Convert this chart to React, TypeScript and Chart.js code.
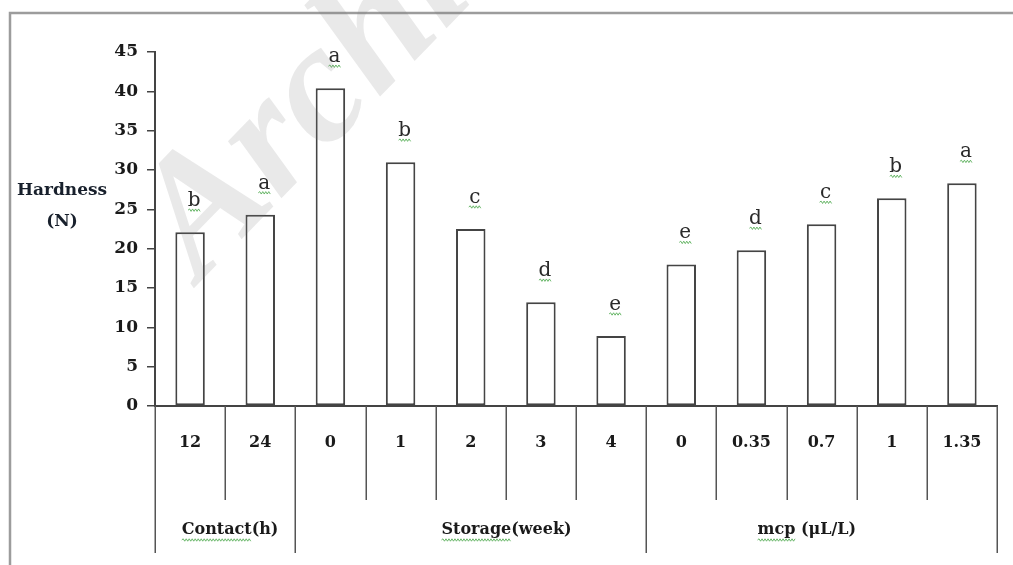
import { useEffect, useRef } from "react";
import { Chart, registerables } from "chart.js";
Chart.register(...registerables);

const categories = ["12", "24", "0", "1", "2", "3", "4", "0", "0.35", "0.7", "1", "1.35"];
const hardness = [22.1, 24.3, 40.4, 31.0, 22.5, 13.2, 8.9, 18.0, 19.8, 23.1, 26.4, 28.3];
const letters = ["b", "a", "a", "b", "c", "d", "e", "e", "d", "c", "b", "a"];
const groupNames = ["Contact(h)", "Storage(week)", "mcp (μL/L)"];
const groupUnderlined = ["Contact", "Storage", "mcp"];
const groupSizes = [2, 5, 5];
const yAxisTitle = ["Hardness", "(N)"];
const watermarkText = "Archive";

// layout (not data)
const groupLabelAnchor = [1.07, 5.01, 9.29];
const SERIF = "'DejaVu Serif', 'Liberation Serif', serif";
const INK = "#1a1a1a";

function wavy(ctx: CanvasRenderingContext2D, x1: number, x2: number, y: number) {
  ctx.save();
  ctx.strokeStyle = "rgba(80,170,80,0.85)";
  ctx.lineWidth = 1;
  ctx.beginPath();
  let up = true;
  ctx.moveTo(x1, y);
  for (let x = x1 + 1.5; x <= x2; x += 1.5) {
    ctx.lineTo(x, up ? y - 1.2 : y + 1.2);
    up = !up;
  }
  ctx.stroke();
  ctx.restore();
}

const decorPlugin = {
  id: "decor",
  beforeDraw(chart: any) {
    const ctx = chart.ctx as CanvasRenderingContext2D;
    ctx.save();
    ctx.fillStyle = "#ffffff";
    ctx.fillRect(0, 0, chart.width, chart.height);
    ctx.strokeStyle = "#9c9c9c";
    ctx.lineWidth = 2.5;
    ctx.beginPath();
    ctx.moveTo(10, chart.height);
    ctx.lineTo(10, 13);
    ctx.lineTo(chart.width, 13);
    ctx.stroke();
    ctx.restore();
  },
  afterDraw(chart: any) {
    const ctx = chart.ctx as CanvasRenderingContext2D;
    const area = chart.chartArea;
    const n = categories.length;
    const cw = (area.right - area.left) / n;
    const y0 = area.bottom;
    ctx.save();

    // y axis title
    ctx.fillStyle = "#18202c";
    ctx.font = `bold 17px ${SERIF}`;
    ctx.textAlign = "center";
    ctx.textBaseline = "middle";
    ctx.fillText(yAxisTitle[0], 62, 191);
    ctx.fillText(yAxisTitle[1], 62, 222);

    // table lines
    ctx.strokeStyle = "#555";
    ctx.lineWidth = 1.5;
    const groupEdges = new Set<number>();
    let acc = 0;
    groupEdges.add(0);
    groupSizes.forEach((s) => {
      acc += s;
      groupEdges.add(acc);
    });
    for (let i = 0; i <= n; i++) {
      const x = Math.round(area.left + i * cw) + 0.25;
      ctx.beginPath();
      ctx.moveTo(x, y0);
      ctx.lineTo(x, groupEdges.has(i) ? 553 : 500);
      ctx.stroke();
    }

    // category labels
    ctx.fillStyle = INK;
    ctx.font = `bold 16px ${SERIF}`;
    ctx.textBaseline = "middle";
    categories.forEach((c, i) => {
      ctx.fillText(c, area.left + (i + 0.5) * cw, 443);
    });

    // group labels
    ctx.font = `bold 16px ${SERIF}`;
    groupNames.forEach((g, i) => {
      const cx = area.left + groupLabelAnchor[i] * cw;
      ctx.fillStyle = INK;
      ctx.fillText(g, cx, 530);
      const w = ctx.measureText(g).width;
      const uw = ctx.measureText(groupUnderlined[i]).width;
      const x1 = cx - w / 2;
      wavy(ctx, x1, x1 + uw, 540);
    });

    // significance letters
    const meta = chart.getDatasetMeta(0);
    ctx.font = `20px ${SERIF}`;
    ctx.textBaseline = "alphabetic";
    meta.data.forEach((bar: any, i: number) => {
      const x = bar.x + 4;
      const y = bar.y - 26;
      ctx.fillStyle = "#2a2a2a";
      ctx.fillText(letters[i], x, y);
      wavy(ctx, x - 6, x + 6, y + 4);
    });

    // watermark
    ctx.translate(200, 282);
    ctx.rotate(-0.8);
    ctx.font = `bold italic 170px 'Liberation Serif', serif`;
    ctx.textAlign = "left";
    ctx.fillStyle = "rgba(120,120,120,0.16)";
    ctx.fillText(watermarkText, 0, 0);
    ctx.restore();
  },
};

export default function App() {
  const ref = useRef<HTMLCanvasElement | null>(null);
  useEffect(() => {
    if (!ref.current) return;
    const chart = new Chart(ref.current, {
      type: "bar",
      data: {
        labels: categories,
        datasets: [
          {
            data: hardness,
            backgroundColor: "#ffffff",
            borderColor: "#444444",
            borderWidth: 2,
            borderSkipped: false,
            barPercentage: 0.42,
            categoryPercentage: 1,
          },
        ],
      },
      options: {
        responsive: false,
        animation: false,
        layout: { padding: { left: 0, top: 52, right: 16, bottom: 0 } },
        plugins: { legend: { display: false }, tooltip: { enabled: false } },
        scales: {
          x: {
            type: "category",
            ticks: { display: false },
            grid: { display: false },
            border: { display: true, color: "#444", width: 2 },
            afterFit: (s: any) => {
              s.height = 159;
            },
          },
          y: {
            min: 0,
            max: 45,
            ticks: {
              stepSize: 5,
              padding: 9,
              color: INK,
              font: { family: SERIF, size: 17, weight: "bold" },
            },
            grid: { drawOnChartArea: false, drawTicks: true, tickLength: 8, color: "#444", lineWidth: 1.5 },
            border: { display: true, color: "#444", width: 2 },
            afterFit: (s: any) => {
              s.width = 155;
            },
          },
        },
      } as any,
      plugins: [decorPlugin],
    });
    return () => chart.destroy();
  }, []);
  return (
    <div style={{ position: "fixed", left: 0, top: 0, width: 1013, height: 565, background: "#fff" }}>
      <canvas ref={ref} width={1013} height={565} />
    </div>
  );
}
